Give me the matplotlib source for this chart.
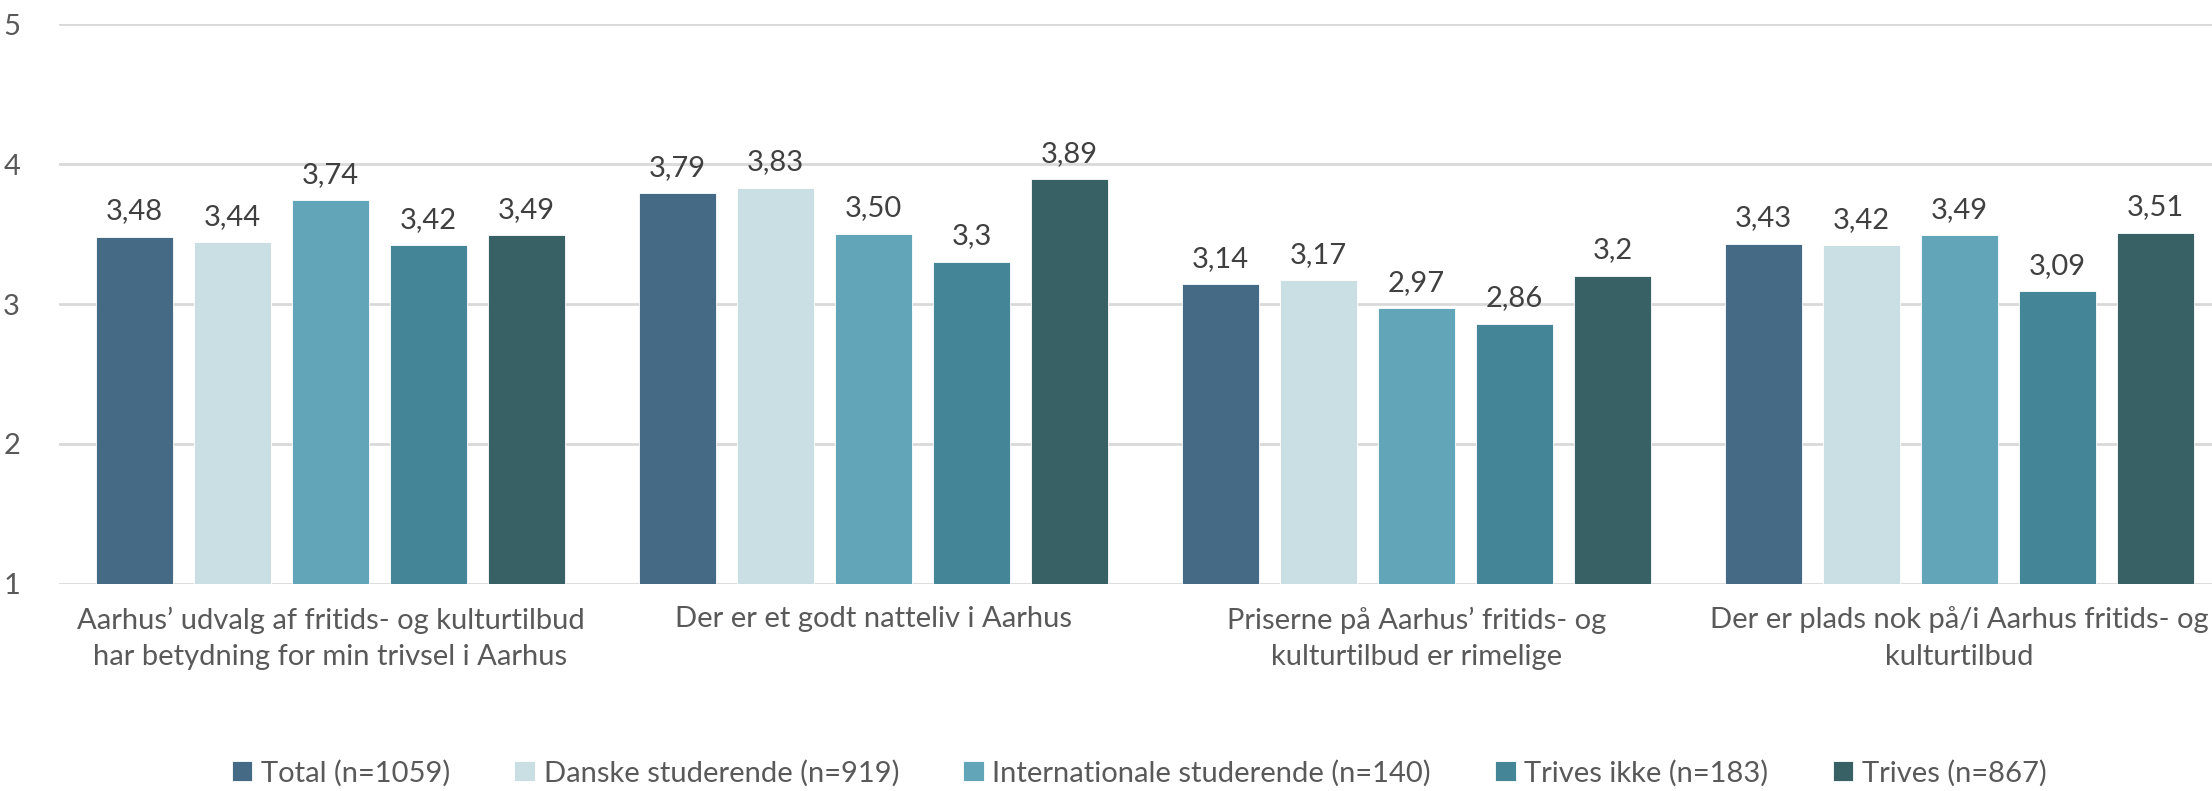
import numpy as np
import matplotlib.pyplot as plt

plt.rcParams['font.family'] = ['Lato', 'DejaVu Sans']

categories = ["Aarhus’ udvalg af fritids- og kulturtilbud\nhar betydning for min trivsel i Aarhus",
              "Der er et godt natteliv i Aarhus",
              "Priserne på Aarhus’ fritids- og\nkulturtilbud er rimelige",
              "Der er plads nok på/i Aarhus fritids- og\nkulturtilbud"]
series = ['Total (n=1059)', 'Danske studerende (n=919)', 'Internationale studerende (n=140)',
          'Trives ikke (n=183)', 'Trives (n=867)']
total = [3.48, 3.79, 3.14, 3.43]
danske = [3.44, 3.83, 3.17, 3.42]
internationale = [3.74, 3.50, 2.97, 3.49]
trives_ikke = [3.42, 3.30, 2.86, 3.09]
trives = [3.49, 3.89, 3.20, 3.51]
labels = [['3,48', '3,79', '3,14', '3,43'],
          ['3,44', '3,83', '3,17', '3,42'],
          ['3,74', '3,50', '2,97', '3,49'],
          ['3,42', '3,3', '2,86', '3,09'],
          ['3,49', '3,89', '3,2', '3,51']]
yticks = [1, 2, 3, 4, 5]

colors = ['#446A86', '#C9DFE3', '#62A5B8', '#448697', '#386166']
values = [total, danske, internationale, trives_ikke, trives]

W, H = 2212, 791
fig = plt.figure(figsize=(W / 100, H / 100), dpi=100)
# axes area in pixels: left 59, top 24, bottom 584, category step 543
ax = fig.add_axes([59 / W, (H - 584) / H, 4 * 543 / W, 560 / H])

x = np.arange(len(categories))
step = 98 / 543
bw = 77 / 543
for i, vals in enumerate(values):
    pos = x + (i - 2) * step
    ax.bar(pos, np.array(vals) - 1, bottom=1, width=bw, color=colors[i],
           label=series[i], zorder=3, edgecolor='white', linewidth=0.6)
    for p, v, t in zip(pos, vals, labels[i]):
        ax.text(p, v + 0.09, t, ha='center', va='bottom', fontsize=21, color='#404040')

ax.set_xlim(-0.5, 3.5)
ax.set_ylim(1, 5)
ax.set_yticks(yticks)
ax.set_yticklabels([str(t) for t in yticks])
ax.grid(axis='y', color='#D9D9D9', linewidth=2, zorder=0)
for s in ['top', 'right', 'left', 'bottom']:
    ax.spines[s].set_visible(False)
ax.tick_params(axis='y', length=0, pad=28, labelsize=21, labelcolor='#595959')
ax.tick_params(axis='x', length=0, pad=16, labelsize=21, labelcolor='#595959')
ax.set_xticks(x)
ax.set_xticklabels(categories, linespacing=1.5)

fig.legend(loc='center', bbox_to_anchor=(0.515, (H - 773) / H), ncol=5, frameon=False,
           fontsize=21, labelcolor='#595959', handlelength=0.7, handleheight=0.7,
           handletextpad=0.3, columnspacing=2.2)

fig.savefig('out.png', dpi=100)
